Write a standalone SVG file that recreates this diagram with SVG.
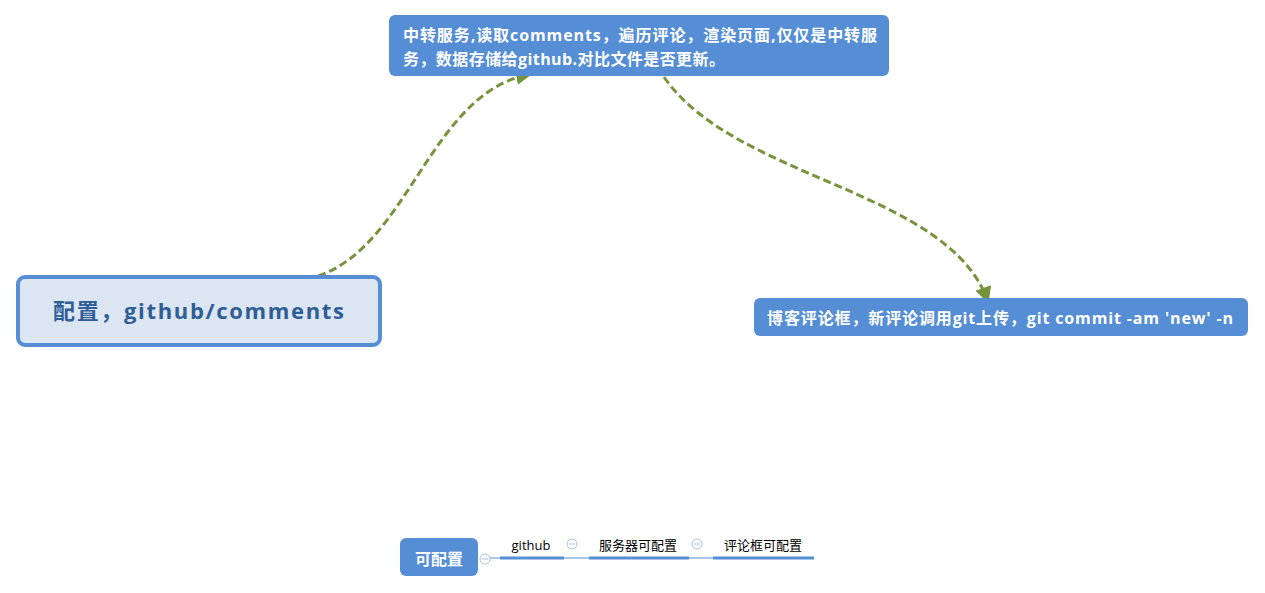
<svg xmlns="http://www.w3.org/2000/svg" width="1265" height="593" viewBox="0 0 1265 593">
<style>
.t{font-family:"Open Sans","Noto Sans CJK SC",sans-serif;}
.w{fill:#fff;font-weight:bold;font-size:16px;}
.blue{fill:#558ED5;}
.conn{fill:none;stroke:#77933C;stroke-width:3;stroke-dasharray:8 4;}
.sub{font-size:13px;fill:#000;}
.ul{stroke:#558ED5;stroke-width:3;}
.thin{stroke:#558ED5;stroke-width:1;}
.tog{fill:#fff;stroke:#A9C0E8;stroke-width:1;}
.togm{stroke:#A9C0E8;stroke-width:1;}
</style>
<defs>
<marker id="arr" viewBox="0 0 10 10" refX="9" refY="5" markerWidth="5.5" markerHeight="5.5" orient="auto" markerUnits="strokeWidth">
<path d="M0,0 L10,5 L0,10 z" fill="#77933C"/>
</marker>
</defs>
<rect width="1265" height="593" fill="#fff"/>
<g id="connectors">
<path class="conn" d="M318,276 C410,245 430,92 531,74" marker-end="url(#arr)"/>
<path class="conn" d="M664,77 C735,180 950,190 988,302" marker-end="url(#arr)"/>
</g>
<g id="node-center">
<rect x="18" y="277" width="362" height="68" rx="7" fill="#DCE6F2" stroke="#558ED5" stroke-width="4"/>
<text class="t" x="53" y="319" textLength="291" lengthAdjust="spacing" font-size="22" font-weight="bold" fill="#2F5D95">配置，github/comments</text>
</g>
<g id="node-top">
<rect class="blue" x="389" y="15" width="500" height="61" rx="6"/>
<text class="t w" x="403" y="41" textLength="474" lengthAdjust="spacing">中转服务,读取comments，遍历评论，渲染页面,仅仅是中转服</text>
<text class="t w" x="403" y="65" textLength="322" lengthAdjust="spacing">务，数据存储给github.对比文件是否更新。</text>
</g>
<g id="node-right">
<rect class="blue" x="754" y="298" width="494" height="38" rx="6"/>
<text class="t w" x="767" y="324" textLength="466" lengthAdjust="spacing">博客评论框，新评论调用git上传，git commit -am 'new' -n</text>
</g>
<g id="node-config">
<rect class="blue" x="400" y="538" width="78" height="38" rx="6"/>
<text class="t w" x="439" y="565" text-anchor="middle">可配置</text>
<line class="thin" x1="490" y1="558" x2="500" y2="558"/>
<circle class="tog" cx="485" cy="559" r="5"/>
<line class="togm" x1="482" y1="559" x2="488" y2="559"/>
</g>
<g id="node-github">
<line class="ul" x1="500" y1="558" x2="564" y2="558"/>
<text class="t sub" x="531" y="550" text-anchor="middle">github</text>
<line class="thin" x1="564" y1="558" x2="589" y2="558"/>
<circle class="tog" cx="572" cy="544" r="5"/>
<line class="togm" x1="569" y1="544" x2="575" y2="544"/>
</g>
<g id="node-server">
<line class="ul" x1="589" y1="558" x2="689" y2="558"/>
<text class="t sub" x="638" y="550" text-anchor="middle">服务器可配置</text>
<line class="thin" x1="689" y1="558" x2="713" y2="558"/>
<circle class="tog" cx="697" cy="544" r="5"/>
<line class="togm" x1="694" y1="544" x2="700" y2="544"/>
</g>
<g id="node-comment">
<line class="ul" x1="713" y1="558" x2="814" y2="558"/>
<text class="t sub" x="763" y="550" text-anchor="middle">评论框可配置</text>
</g>
</svg>
